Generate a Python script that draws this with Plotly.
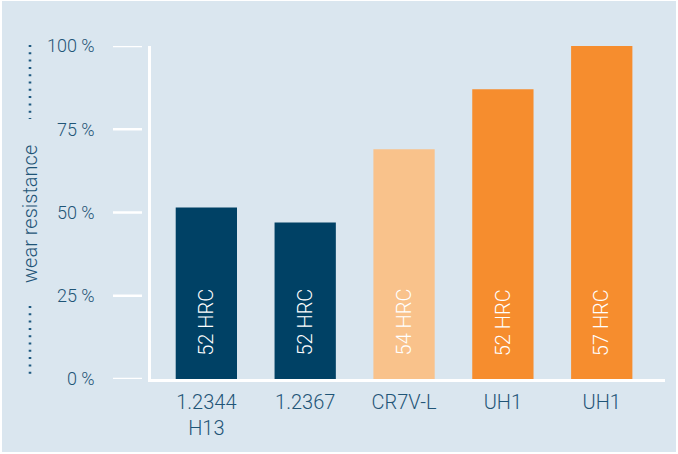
import plotly.graph_objects as go

categories = ["1.2344<br>H13", "1.2367", "CR7V-L", "UH1", "UH1"]
values = [51.5, 47, 69, 87, 100]
hardness = ["52 HRC", "52 HRC", "54 HRC", "52 HRC", "57 HRC"]
colors = ["#004165", "#004165", "#f9c28b", "#f68d2e", "#f68d2e"]
ytick_vals = [0, 25, 50, 75, 100]
ytick_text = ["0 %", "25 %", "50 %", "75 %", "100 %"]
label_y = 17

TEXT = "#1f5577"
BG = "#dae6ef"
FONT = "Roboto, Liberation Sans, Arial, sans-serif"
WEIGHT = 300

# plot area geometry (px)
L, R, T, B = 151, 13, 46, 75
W = 678 - L - R
H = 454 - T - B


def px_x(x):
    return (x - L) / W


def px_y(y):
    return (454 - B - y) / H


xs = list(range(len(categories)))

fig = go.Figure()
fig.add_trace(go.Bar(
    x=xs, y=values, marker=dict(color=colors, line=dict(width=0)),
    width=0.62, hoverinfo="skip", showlegend=False,
))

shapes = [
    dict(type="rect", xref="paper", yref="paper", layer="below",
         x0=px_x(2), x1=px_x(676), y0=px_y(452), y1=px_y(1),
         fillcolor=BG, line=dict(width=0)),
]
for v in ytick_vals:
    shapes.append(dict(type="line", xref="paper", yref="y",
                       x0=px_x(113), x1=px_x(142), y0=v, y1=v,
                       line=dict(color="white", width=2.5)))
for (ya, yb) in [(45, 119), (306, 378)]:
    shapes.append(dict(type="line", xref="paper", yref="paper",
                       x0=px_x(30), x1=px_x(30), y0=px_y(ya), y1=px_y(yb),
                       line=dict(color="#1f5a80", width=2.6, dash="2px,5.3px")))

annotations = [
    dict(text="wear resistance", xref="paper", yref="paper",
         x=px_x(30), y=px_y(214), textangle=-90, showarrow=False,
         font=dict(family=FONT, size=20, color=TEXT, weight=WEIGHT),
         xanchor="center", yanchor="middle"),
]
for i, t in enumerate(hardness):
    annotations.append(dict(text=t, x=xs[i], y=label_y, xref="x", yref="y",
                            textangle=-90, showarrow=False,
                            font=dict(family=FONT, size=20, color="white", weight=WEIGHT),
                            xanchor="center", yanchor="middle"))

fig.update_layout(
    width=678, height=454,
    margin=dict(l=L, r=R, t=T, b=B, pad=0),
    paper_bgcolor="white", plot_bgcolor="rgba(0,0,0,0)",
    shapes=shapes, annotations=annotations,
    xaxis=dict(range=[-0.56, 4.64], tickmode="array", tickvals=xs,
               ticktext=categories, showgrid=False, zeroline=False,
               showline=True, linecolor="white", linewidth=2.5,
               ticks="", tickfont=dict(family=FONT, size=20, color=TEXT, weight=WEIGHT),
               ticklabelstandoff=3, fixedrange=True),
    yaxis=dict(range=[0, 100], tickmode="array", tickvals=ytick_vals,
               ticktext=ytick_text, showgrid=False, zeroline=False,
               showline=True, linecolor="white", linewidth=2.5,
               ticks="", tickfont=dict(family=FONT, size=18, color=TEXT, weight=WEIGHT),
               ticklabelstandoff=50, fixedrange=True),
    font=dict(family=FONT, color=TEXT),
)

fig.write_html("out.html", config={"displayModeBar": False},
               post_script="document.body.style.margin='0px';document.body.style.overflow='hidden';")
